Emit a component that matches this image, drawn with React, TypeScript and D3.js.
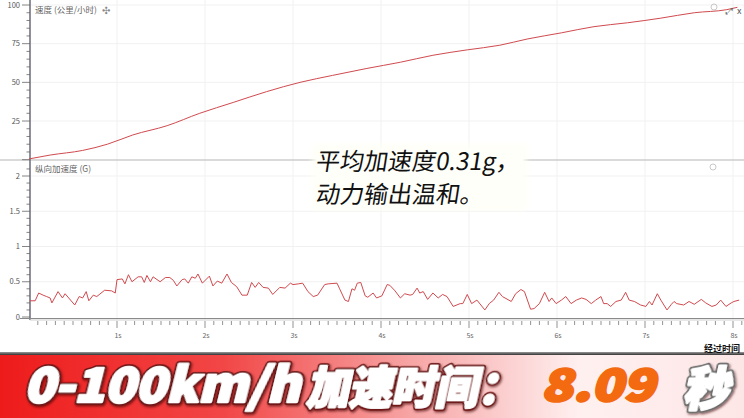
import React from "react";
import * as d3 from "d3";

// ---- data ----
const speedTime = [0, 0.24, 0.61, 0.89, 1.18, 1.57, 1.94, 2.32, 2.7, 3.08, 3.45, 3.84, 4.22, 4.59, 4.98, 5.35, 5.66, 6.05, 6.42, 6.8, 7.18, 7.56, 7.93, 8.05];
const speedKmh = [0.5, 3, 6, 10, 16, 22, 30, 37, 44, 50, 54.5, 59, 63, 67.5, 71, 74, 78, 82, 86, 88.5, 91.5, 95, 97, 98.5];

const accelSamples: [number, number][] = [
  [0.01,0.23],[0.07,0.23],[0.11,0.34],[0.16,0.31],[0.20,0.29],[0.24,0.27],[0.26,0.20],[0.33,0.36],[0.38,0.27],[0.41,0.33],
  [0.52,0.17],[0.57,0.29],[0.61,0.27],[0.65,0.36],[0.68,0.23],[0.73,0.31],[0.77,0.29],[0.86,0.38],[0.94,0.37],[0.98,0.34],
  [1.00,0.53],[1.06,0.54],[1.09,0.47],[1.13,0.60],[1.17,0.50],[1.24,0.57],[1.28,0.57],[1.31,0.49],[1.34,0.59],[1.38,0.50],
  [1.41,0.57],[1.49,0.50],[1.55,0.56],[1.60,0.56],[1.64,0.52],[1.68,0.44],[1.74,0.53],[1.77,0.54],[1.81,0.48],[1.85,0.57],
  [1.89,0.55],[1.92,0.61],[1.97,0.48],[2.05,0.58],[2.09,0.44],[2.14,0.51],[2.19,0.48],[2.25,0.61],[2.30,0.49],[2.36,0.43],
  [2.42,0.31],[2.48,0.31],[2.53,0.49],[2.57,0.42],[2.61,0.49],[2.66,0.42],[2.72,0.41],[2.77,0.32],[2.85,0.42],[2.91,0.41],
  [2.97,0.48],[3.00,0.46],[3.06,0.47],[3.11,0.48],[3.17,0.36],[3.23,0.29],[3.28,0.31],[3.36,0.46],[3.40,0.47],[3.50,0.48],
  [3.53,0.40],[3.59,0.24],[3.63,0.22],[3.67,0.40],[3.70,0.38],[3.73,0.48],[3.77,0.49],[3.82,0.30],[3.85,0.28],[3.91,0.34],
  [3.95,0.27],[4.01,0.30],[4.07,0.46],[4.10,0.45],[4.16,0.37],[4.22,0.27],[4.27,0.33],[4.33,0.31],[4.36,0.32],[4.41,0.41],
  [4.44,0.34],[4.48,0.36],[4.53,0.25],[4.59,0.34],[4.65,0.27],[4.70,0.32],[4.75,0.29],[4.82,0.15],[4.90,0.19],[4.93,0.19],
  [4.98,0.32],[5.03,0.19],[5.09,0.24],[5.18,0.10],[5.23,0.19],[5.28,0.24],[5.34,0.35],[5.38,0.29],[5.48,0.22],[5.53,0.33],
  [5.59,0.39],[5.63,0.36],[5.70,0.11],[5.74,0.12],[5.80,0.19],[5.86,0.35],[5.91,0.22],[5.94,0.27],[5.99,0.19],[6.05,0.24],
  [6.10,0.29],[6.16,0.19],[6.22,0.24],[6.28,0.27],[6.33,0.25],[6.39,0.19],[6.44,0.24],[6.50,0.29],[6.53,0.19],[6.57,0.19],
  [6.61,0.15],[6.67,0.22],[6.73,0.24],[6.78,0.35],[6.82,0.24],[6.88,0.22],[6.95,0.17],[7.01,0.15],[7.05,0.22],[7.08,0.17],
  [7.14,0.33],[7.18,0.24],[7.25,0.10],[7.30,0.18],[7.33,0.22],[7.36,0.19],[7.44,0.17],[7.50,0.22],[7.56,0.18],[7.64,0.25],
  [7.69,0.20],[7.76,0.15],[7.81,0.17],[7.86,0.24],[7.92,0.15],[7.98,0.20],[8.01,0.22],[8.07,0.24],
];

const speedTicks = [25, 50, 75, 100];
const accelTicks = [0, 0.5, 1, 1.5, 2];
const timeTicks = [1, 2, 3, 4, 5, 6, 7, 8];

const speedTitle = "速度 (公里/小时)";
const accelTitle = "纵向加速度 (G)";
const xTitle = "经过时间";
const noteLines = ["平均加速度0.31g，", "动力输出温和。"];
const bannerLabel = "0-100km/h";
const bannerCJK = "加速时间：";
const bannerValue = "8.09";
const bannerUnit = "秒";

const W = 744;
const H = 418;
const FONT = "'Noto Sans CJK SC', 'Noto Sans', sans-serif";

function HeavyText(props: {
  tx: number;
  ty: number;
  skew: number;
  text: string;
  size: number;
  fill: string;
  outline: string;
  len?: number;
  shadow?: boolean;
}) {
  const { tx, ty, skew, text, size, fill, outline, len, shadow } = props;
  const common: any = {
    x: 0,
    y: 0,
    fontSize: size,
    fontWeight: 900,
    strokeLinejoin: "round",
  };
  if (len) {
    common.textLength = len;
    common.lengthAdjust = "spacingAndGlyphs";
  }
  return (
    <g transform={`translate(${tx}, ${ty}) skewX(${skew})`} filter={shadow ? "url(#shadow)" : undefined}>
      <text {...common} fill={outline} stroke={outline} strokeWidth={6}>
        {text}
      </text>
      <text {...common} fill={fill} stroke={fill} strokeWidth={2.6}>
        {text}
      </text>
    </g>
  );
}

export default function App() {
  const x = d3.scaleLinear().domain([0, 8]).range([29, 733]);
  const ySpeed = d3.scaleLinear().domain([0, 100]).range([159.7, 5]);
  const yAcc = d3.scaleLinear().domain([0, 2]).range([317, 176]);

  const speedLine = d3
    .line<number>()
    .x((_, i) => x(speedTime[i]))
    .y((d) => ySpeed(d))
    .curve(d3.curveMonotoneX);
  const accLine = d3
    .line<[number, number]>()
    .x((d) => x(d[0]))
    .y((d) => yAcc(d[1]));

  const speedMinor = d3.range(0, 101, 5);
  const accMinor = d3.range(0, 22).map((i) => i / 10);
  const timeMinor = d3.range(1, 82).map((i) => i / 10);

  const axisX = 30;
  const xAxisY = 320;
  const lineColor = "#d04a4f";

  return (
    <div style={{ position: "absolute", left: 0, top: 0 }}>
      <svg width={W} height={H} style={{ display: "block", fontFamily: FONT }}>
        <defs>
          <linearGradient id="banner" x1="0" x2="1" y1="0" y2="0">
            <stop offset="0%" stopColor="#ee1b1b" />
            <stop offset="30%" stopColor="#f24646" />
            <stop offset="55%" stopColor="#f7a4a4" />
            <stop offset="78%" stopColor="#fff0f0" />
            <stop offset="100%" stopColor="#fde6e6" />
          </linearGradient>
          <linearGradient id="bannerTop" x1="0" x2="0" y1="0" y2="1">
            <stop offset="0%" stopColor="#999" />
            <stop offset="100%" stopColor="#333" />
          </linearGradient>
          <filter id="shadow" x="-10%" y="-20%" width="130%" height="150%">
            <feDropShadow dx="1.5" dy="1.5" stdDeviation="1" floodColor="#3a0000" floodOpacity="0.6" />
          </filter>
          <filter id="glow" x="-10%" y="-10%" width="120%" height="120%">
            <feGaussianBlur stdDeviation="3" />
          </filter>
        </defs>

        <rect x={0} y={0} width={W} height={H} fill="#fff" />

        {/* gridlines */}
        {timeTicks.map((t) => (
          <line key={"vg" + t} x1={x(t)} x2={x(t)} y1={0} y2={xAxisY} stroke="#f1f1f1" strokeWidth={1} />
        ))}
        {speedTicks.map((v) => (
          <line key={"hg" + v} x1={axisX} x2={W} y1={ySpeed(v)} y2={ySpeed(v)} stroke="#f1f1f1" strokeWidth={1} />
        ))}
        {accelTicks.filter((v) => v > 0).map((v) => (
          <line key={"ag" + v} x1={axisX} x2={W} y1={yAcc(v)} y2={yAcc(v)} stroke="#f1f1f1" strokeWidth={1} />
        ))}

        {/* panel separator */}
        <line x1={0} x2={W} y1={160} y2={160} stroke="#b5b5b5" strokeWidth={1} />

        {/* left axis */}
        <line x1={axisX} x2={axisX} y1={0} y2={xAxisY} stroke="#6b6b7a" strokeWidth={1.5} />
        {speedMinor.map((v) => (
          <line key={"sm" + v} x1={v % 25 === 0 ? 22 : 26.5} x2={axisX} y1={ySpeed(v)} y2={ySpeed(v)} stroke="#666" strokeWidth={0.8} />
        ))}
        {speedTicks.map((v) => (
          <text key={"sl" + v} x={20} y={ySpeed(v) + 2.5} fontSize={7.5} fill="#555" textAnchor="end">
            {v}
          </text>
        ))}
        {accMinor.map((v, i) => (
          <line key={"am" + i} x1={i % 5 === 0 ? 22 : 26.5} x2={axisX} y1={yAcc(v)} y2={yAcc(v)} stroke="#666" strokeWidth={0.8} />
        ))}
        {accelTicks.map((v) => (
          <text key={"al" + v} x={20} y={yAcc(v) + 2.5} fontSize={7.5} fill="#555" textAnchor="end">
            {v}
          </text>
        ))}

        {/* x axis */}
        <line x1={20} x2={W} y1={xAxisY - 1.5} y2={xAxisY - 1.5} stroke="#8a8a8a" strokeWidth={1} />
        <line x1={axisX} x2={W} y1={xAxisY} y2={xAxisY} stroke="#cfcfcf" strokeWidth={1} />
        {timeMinor.map((t, i) => (
          <line
            key={"tm" + i}
            x1={x(t)}
            x2={x(t)}
            y1={xAxisY + 1}
            y2={(i + 1) % 10 === 0 ? xAxisY + 8 : xAxisY + 5}
            stroke="#777"
            strokeWidth={0.8}
          />
        ))}
        {timeTicks.map((t) => (
          <text key={"tl" + t} x={x(t) + 1} y={338} fontSize={7} fill="#666" textAnchor="middle">
            {t + "s"}
          </text>
        ))}

        {/* series */}
        <path d={speedLine(speedKmh) || ""} fill="none" stroke={lineColor} strokeWidth={1} />
        <path d={accLine(accelSamples) || ""} fill="none" stroke={lineColor} strokeWidth={1} />

        {/* panel titles and icons */}
        <text x={35} y={13} fontSize={8.5} fill="#666">
          {speedTitle}
        </text>
        <text x={102} y={14} fontSize={10} fill="#888">
          ✣
        </text>
        <text x={35} y={172} fontSize={8.5} fill="#666">
          {accelTitle}
        </text>
        <circle cx={714} cy={7} r={3} fill="none" stroke="#bbb" strokeWidth={0.8} />
        <text x={726} y={14} fontSize={9} fill="#666">
          ⤢
        </text>
        <text x={737} y={14} fontSize={9} fill="#555">
          x
        </text>
        <circle cx={713} cy={167} r={3} fill="none" stroke="#bbb" strokeWidth={0.8} />

        {/* annotation */}
        <rect x={313} y={145} width={213} height={64} fill="#fffff6" filter="url(#glow)" />
        <rect x={316} y={148} width={207} height={58} fill="#fffffa" />
        {noteLines.map((s, i) => (
          <g key={"n" + i} transform={`translate(315, ${170 + i * 33}) skewX(-9)`}>
            <text x={0} y={0} fontSize={24} fill="#111">
              {s}
            </text>
          </g>
        ))}

        {/* banner */}
        <rect x={0} y={352} width={W} height={3} fill="url(#bannerTop)" />
        <rect x={0} y={355} width={W} height={63} fill="url(#banner)" />
        <HeavyText tx={24} ty={402} skew={-14} text={bannerLabel} size={47} fill="#fff" outline="#6e1616" len={276} shadow />
        <HeavyText tx={306} ty={404} skew={-12} text={bannerCJK} size={44} fill="#fff" outline="#6e1616" len={214} shadow />
        <g transform="translate(541, 401) skewX(-14)">
          <text
            x={0}
            y={0}
            fontSize={44}
            fontWeight={900}
            fill="#f36a10"
            stroke="#f36a10"
            strokeWidth={2.4}
            strokeLinejoin="round"
            textLength={114}
            lengthAdjust="spacingAndGlyphs"
          >
            {bannerValue}
          </text>
        </g>
        <HeavyText tx={683} ty={405} skew={-12} text={bannerUnit} size={46} fill="#fff" outline="#6a6a6a" shadow />

        <text x={740} y={352} fontSize={9} fontWeight={700} fill="#111" textAnchor="end">
          {xTitle}
        </text>
      </svg>
    </div>
  );
}
